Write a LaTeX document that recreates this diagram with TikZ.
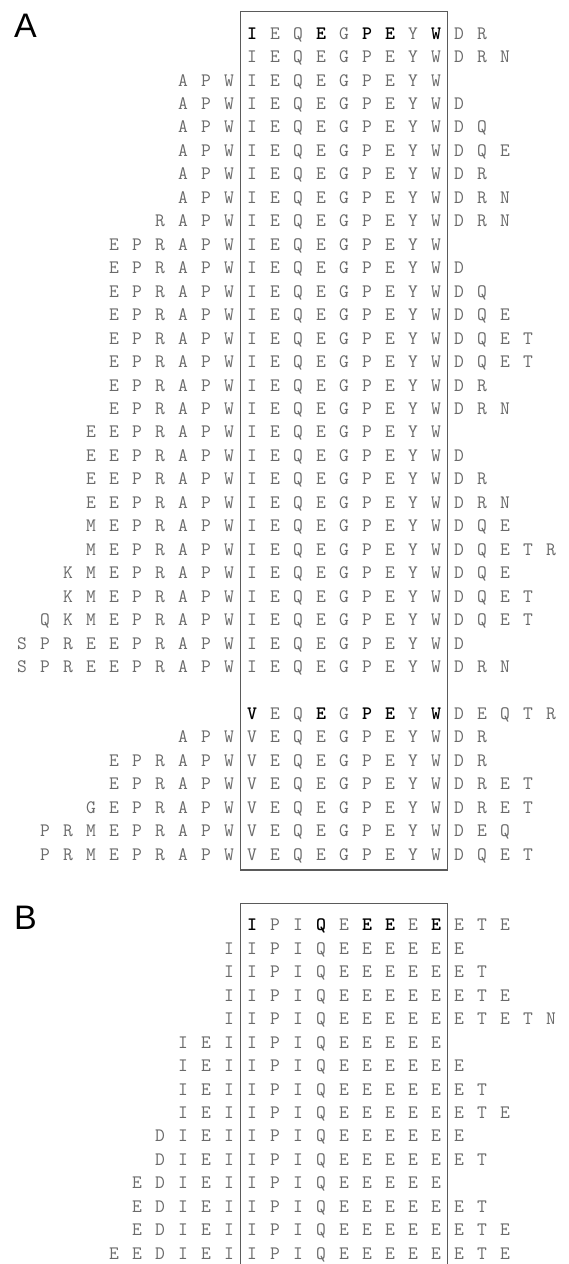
\documentclass[tikz,border=0pt]{standalone}
\usepackage{fontspec}
\usepackage{xcolor}
\newfontfamily\panelfont{Liberation Sans}
\definecolor{resgray}{HTML}{6A6A6A}
\definecolor{framegray}{HTML}{5A5A5A}
\tikzset{
  res/.style={font=\ttfamily\fontsize{19}{19}\selectfont, text=resgray, inner sep=0pt, anchor=base},
  keyres/.style={res, font=\ttfamily\bfseries\fontsize{19}{19}\selectfont, text=black},
  panel/.style={font=\panelfont\fontsize{34}{34}\selectfont, inner sep=0pt, anchor=base west},
  frame/.style={draw=framegray, line width=1.3pt}
}
% one aligned sequence: name, row, first column, residues left of the box, residues right of it
\newcommand\seqrow[5]{%
  \foreach \r [count=\i from #3] in {#4}
    \node[res] (#1l\i) at ({252+23*\i},{\ybase+23.46*(#2-1)}) {\r};
  \foreach \r [count=\i from 0] in \core
    \node[res] (#1c\i) at ({252+23*\i},{\ybase+23.46*(#2-1)}) {\r};
  \foreach \r [count=\i from 9] in {#5}
    \node[res] (#1r\i) at ({252+23*\i},{\ybase+23.46*(#2-1)}) {\r};
}
% reference sequence with the conserved residues in bold
\newcommand\keyrow[4]{%
  \foreach \s/\r [count=\i from 0] in {#3}
    \node[\s] (#1c\i) at ({252+23*\i},{\ybase+23.46*(#2-1)}) {\r};
  \foreach \r [count=\i from 9] in {#4}
    \node[res] (#1r\i) at ({252+23*\i},{\ybase+23.46*(#2-1)}) {\r};
}

\begin{document}
\begin{tikzpicture}[x=1pt, y=-1pt]
  \useasboundingbox (0,0) rectangle (569,1264);

  % panel A
  \node[panel] (labA) at (14,37) {A};
  \draw[frame] (240.5,11.7) rectangle (447.5,870);
  \def\ybase{39.1}
  \def\core{I,E,Q,E,G,P,E,Y,W}
  \keyrow{a1}{1}{keyres/I,res/E,res/Q,keyres/E,res/G,keyres/P,keyres/E,res/Y,keyres/W}{D,R}
  \seqrow{a2}{2}{0}{}{D,R,N}
  \seqrow{a3}{3}{-3}{A,P,W}{}
  \seqrow{a4}{4}{-3}{A,P,W}{D}
  \seqrow{a5}{5}{-3}{A,P,W}{D,Q}
  \seqrow{a6}{6}{-3}{A,P,W}{D,Q,E}
  \seqrow{a7}{7}{-3}{A,P,W}{D,R}
  \seqrow{a8}{8}{-3}{A,P,W}{D,R,N}
  \seqrow{a9}{9}{-4}{R,A,P,W}{D,R,N}
  \seqrow{a10}{10}{-6}{E,P,R,A,P,W}{}
  \seqrow{a11}{11}{-6}{E,P,R,A,P,W}{D}
  \seqrow{a12}{12}{-6}{E,P,R,A,P,W}{D,Q}
  \seqrow{a13}{13}{-6}{E,P,R,A,P,W}{D,Q,E}
  \seqrow{a14}{14}{-6}{E,P,R,A,P,W}{D,Q,E,T}
  \seqrow{a15}{15}{-6}{E,P,R,A,P,W}{D,Q,E,T}
  \seqrow{a16}{16}{-6}{E,P,R,A,P,W}{D,R}
  \seqrow{a17}{17}{-6}{E,P,R,A,P,W}{D,R,N}
  \seqrow{a18}{18}{-7}{E,E,P,R,A,P,W}{}
  \seqrow{a19}{19}{-7}{E,E,P,R,A,P,W}{D}
  \seqrow{a20}{20}{-7}{E,E,P,R,A,P,W}{D,R}
  \seqrow{a21}{21}{-7}{E,E,P,R,A,P,W}{D,R,N}
  \seqrow{a22}{22}{-7}{M,E,P,R,A,P,W}{D,Q,E}
  \seqrow{a23}{23}{-7}{M,E,P,R,A,P,W}{D,Q,E,T,R}
  \seqrow{a24}{24}{-8}{K,M,E,P,R,A,P,W}{D,Q,E}
  \seqrow{a25}{25}{-8}{K,M,E,P,R,A,P,W}{D,Q,E,T}
  \seqrow{a26}{26}{-9}{Q,K,M,E,P,R,A,P,W}{D,Q,E,T}
  \seqrow{a27}{27}{-10}{S,P,R,E,E,P,R,A,P,W}{D}
  \seqrow{a28}{28}{-10}{S,P,R,E,E,P,R,A,P,W}{D,R,N}

  \def\core{V,E,Q,E,G,P,E,Y,W}
  \keyrow{a30}{30}{keyres/V,res/E,res/Q,keyres/E,res/G,keyres/P,keyres/E,res/Y,keyres/W}{D,E,Q,T,R}
  \seqrow{a31}{31}{-3}{A,P,W}{D,R}
  \seqrow{a32}{32}{-6}{E,P,R,A,P,W}{D,R}
  \seqrow{a33}{33}{-6}{E,P,R,A,P,W}{D,R,E,T}
  \seqrow{a34}{34}{-7}{G,E,P,R,A,P,W}{D,R,E,T}
  \seqrow{a35}{35}{-9}{P,R,M,E,P,R,A,P,W}{D,E,Q}
  \seqrow{a36}{36}{-9}{P,R,M,E,P,R,A,P,W}{D,Q,E,T}

  % panel B
  \node[panel] (labB) at (14,929) {B};
  \draw[frame] (240.5,1264) |- (447.5,903.3) -- (447.5,1264);
  \def\ybase{930.8}
  \def\core{I,P,I,Q,E,E,E,E,E}
  \keyrow{b1}{1}{keyres/I,res/P,res/I,keyres/Q,res/E,keyres/E,keyres/E,res/E,keyres/E}{E,T,E}
  \seqrow{b2}{2}{-1}{I}{E}
  \seqrow{b3}{3}{-1}{I}{E,T}
  \seqrow{b4}{4}{-1}{I}{E,T,E}
  \seqrow{b5}{5}{-1}{I}{E,T,E,T,N}
  \seqrow{b6}{6}{-3}{I,E,I}{}
  \seqrow{b7}{7}{-3}{I,E,I}{E}
  \seqrow{b8}{8}{-3}{I,E,I}{E,T}
  \seqrow{b9}{9}{-3}{I,E,I}{E,T,E}
  \seqrow{b10}{10}{-4}{D,I,E,I}{E}
  \seqrow{b11}{11}{-4}{D,I,E,I}{E,T}
  \seqrow{b12}{12}{-5}{E,D,I,E,I}{}
  \seqrow{b13}{13}{-5}{E,D,I,E,I}{E,T}
  \seqrow{b14}{14}{-5}{E,D,I,E,I}{E,T,E}
  \seqrow{b15}{15}{-6}{E,E,D,I,E,I}{E,T,E}
\end{tikzpicture}
\end{document}
